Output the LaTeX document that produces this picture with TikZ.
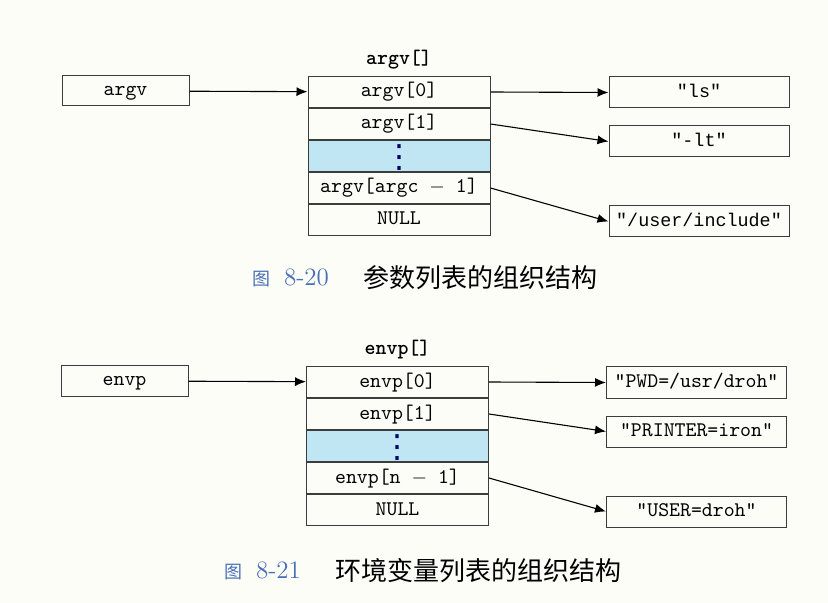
\documentclass[tikz,border=0pt]{standalone}
\usepackage{fontspec}
\newfontfamily\cjk{Noto Sans CJK SC}
\newfontfamily\courier{Liberation Mono}
\newfontfamily\dejavu{DejaVu Sans}
\usetikzlibrary{positioning,arrows.meta}

\definecolor{cellblue}{RGB}{192,229,243}
\definecolor{capblue}{RGB}{72,112,182}
\definecolor{paper}{RGB}{253,253,248}
\definecolor{edgegray}{RGB}{60,60,60}

\tikzset{
  ptrbox/.style={draw=edgegray, line width=0.5pt, minimum width=63.5pt, minimum height=15pt, inner sep=0pt, text height=7.5pt, text depth=2.5pt, font=\ttfamily\fontsize{10.4}{12}\selectfont},
  cell/.style={draw=edgegray, line width=0.5pt, minimum width=91pt, minimum height=15.5pt, inner sep=0pt, text height=7.5pt, text depth=2.5pt, font=\ttfamily\fontsize{10.4}{12}\selectfont},
  dots/.style={draw=edgegray, line width=0.5pt, minimum width=91pt, minimum height=15.5pt, inner sep=0pt, text height=11.7pt, text depth=0pt, fill=cellblue, text=black!60!blue, font=\dejavu\fontsize{16}{16}\selectfont},
  strbox/.style={draw=edgegray, line width=0.5pt, minimum width=90pt, minimum height=15.5pt, inner sep=0pt, text height=7.5pt, text depth=2.5pt, font=\ttfamily\fontsize{10.4}{12}\selectfont},
  cstrbox/.style={strbox, font=\courier\fontsize{9.2}{11}\selectfont},
  arrname/.style={font=\ttfamily\bfseries\fontsize{10.4}{12}\selectfont},
  ptr/.style={-{Latex[length=5.5pt,width=4.5pt]}, line width=0.55pt},
  capnum/.style={text=capblue, anchor=west},
  captext/.style={anchor=west, font=\cjk\fontsize{13}{15}\selectfont},
}

\begin{document}
\begin{tikzpicture}[x=0.5pt, y=-0.5pt, node distance=0pt]
  \fill[paper] (0,0) rectangle (828,603);
  \useasboundingbox (0,0) rectangle (828,603);

  % argument list
  \node[ptrbox] (argv) at (125.5,91) {argv};
  \node[cell] (g0) at (399,92) {argv[0]};
  \node[cell, below=of g0] (g1) {argv[1]};
  \node[dots, below=of g1] (g2) {⋮};
  \node[cell, below=of g2] (g3) {argv[argc $-$ 1]};
  \node[cell, below=of g3] (g4) {NULL};
  \node[arrname, above=of g0] (gname) {argv[]};
  \node[cstrbox] (ls) at (699,92.5) {"ls"};
  \node[cstrbox] (lt) at (699,141.5) {"-lt"};
  \node[cstrbox] (inc) at (699,221.5) {"/user/include"};
  \draw[ptr] (argv) -- (g0);
  \draw[ptr] (g0.east) -- (ls.west);
  \draw[ptr] (g1.east) -- (lt.west);
  \draw[ptr] (g3.east) -- (inc.west);

  \node[capnum] (cap1num) at (245,278) {{\cjk\fontsize{9}{10}\selectfont 图}\hspace{7pt}{\fontsize{12.5}{14}\selectfont 8-20}};
  \node[captext] (cap1txt) at (356,278) {参数列表的组织结构};

  % environment list
  \node[ptrbox] (envp) at (124.5,381) {envp};
  \node[cell] (e0) at (397.5,382) {envp[0]};
  \node[cell, below=of e0] (e1) {envp[1]};
  \node[dots, below=of e1] (e2) {⋮};
  \node[cell, below=of e2] (e3) {envp[n $-$ 1]};
  \node[cell, below=of e3] (e4) {NULL};
  \node[arrname, above=of e0] (ename) {envp[]};
  \node[strbox] (pwd) at (696.5,382.5) {"PWD=/usr/droh"};
  \node[strbox] (prn) at (696.5,431.5) {"PRINTER=iron"};
  \node[strbox] (usr) at (696.5,511.5) {"USER=droh"};
  \draw[ptr] (envp) -- (e0);
  \draw[ptr] (e0.east) -- (pwd.west);
  \draw[ptr] (e1.east) -- (prn.west);
  \draw[ptr] (e3.east) -- (usr.west);

  \node[capnum] (cap2num) at (217,571) {{\cjk\fontsize{9}{10}\selectfont 图}\hspace{7pt}{\fontsize{12.5}{14}\selectfont 8-21}};
  \node[captext] (cap2txt) at (328,571) {环境变量列表的组织结构};
\end{tikzpicture}
\end{document}
